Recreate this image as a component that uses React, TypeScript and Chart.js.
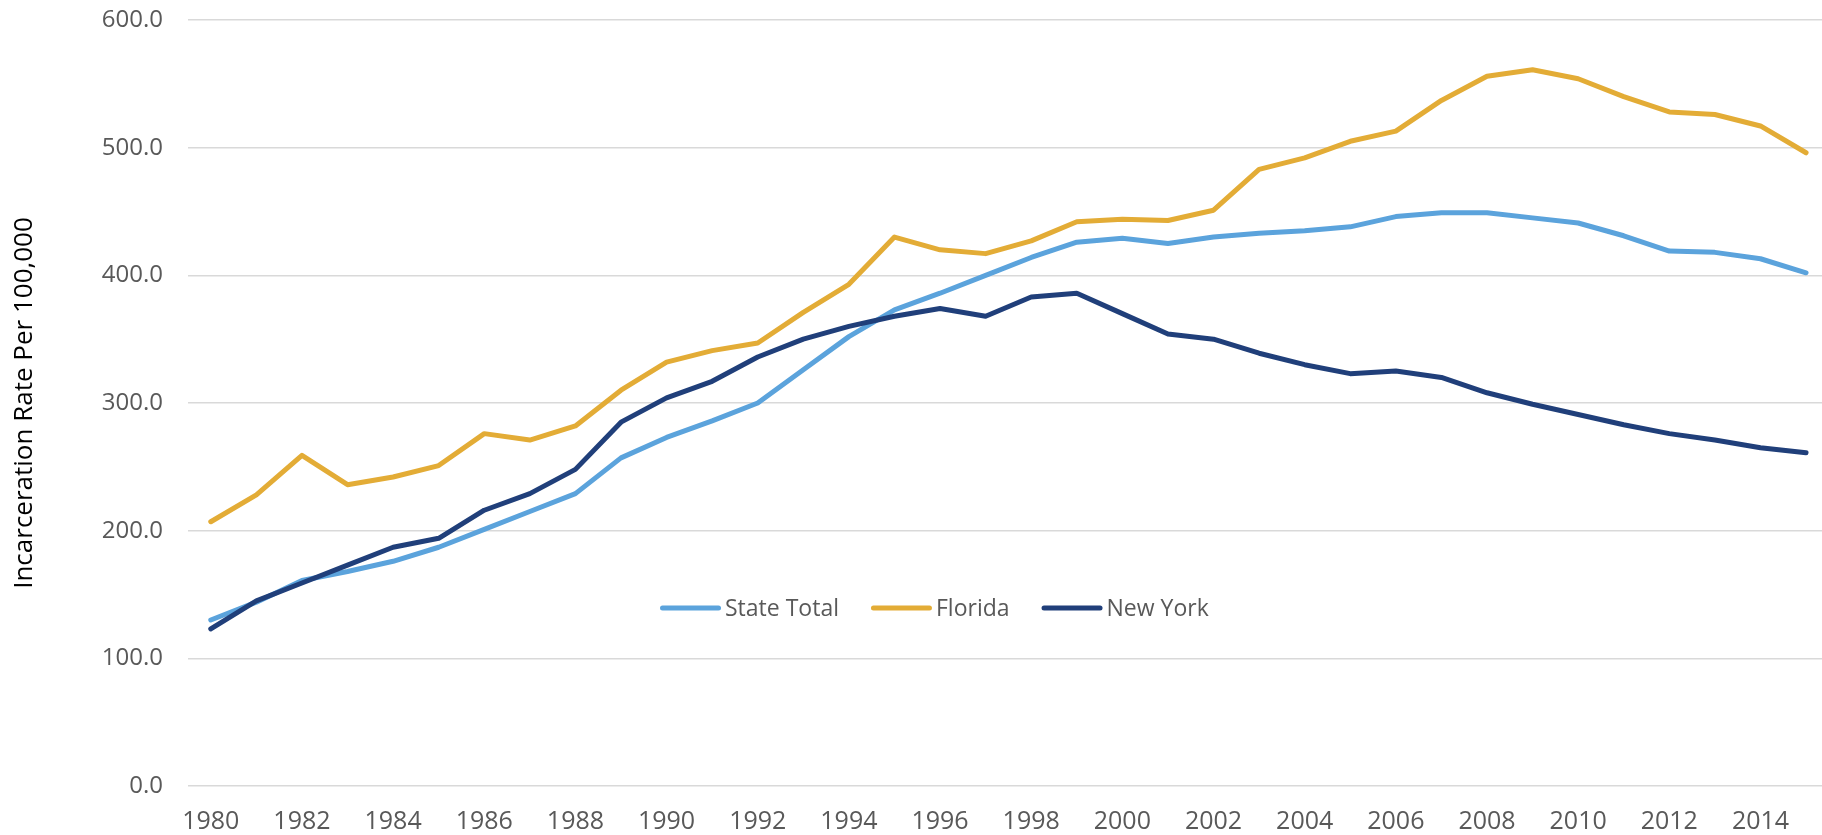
import React, { useEffect, useRef } from "react";
import { Chart, registerables } from "chart.js";

Chart.register(...registerables);

const years = [
  1980, 1981, 1982, 1983, 1984, 1985, 1986, 1987, 1988, 1989, 1990, 1991,
  1992, 1993, 1994, 1995, 1996, 1997, 1998, 1999, 2000, 2001, 2002, 2003,
  2004, 2005, 2006, 2007, 2008, 2009, 2010, 2011, 2012, 2013, 2014, 2015,
];

const stateTotal = [
  130, 144, 161, 168, 176, 187, 201, 215, 229, 257, 273, 286,
  300, 326, 352, 373, 386, 400, 414, 426, 429, 425, 430, 433,
  435, 438, 446, 449, 449, 445, 441, 431, 419, 418, 413, 402,
];

const florida = [
  207, 228, 259, 236, 242, 251, 276, 271, 282, 310, 332, 341,
  347, 371, 393, 430, 420, 417, 427, 442, 444, 443, 451, 483,
  492, 505, 513, 537, 556, 561, 554, 540, 528, 526, 517, 496,
];

const newYork = [
  123, 145, 159, 173, 187, 194, 216, 229, 248, 285, 304, 317,
  336, 350, 360, 368, 374, 368, 383, 386, 370, 354, 350, 339,
  330, 323, 325, 320, 308, 299, 291, 283, 276, 271, 265, 261,
];

const xTickLabels = [
  1980, 1982, 1984, 1986, 1988, 1990, 1992, 1994, 1996, 1998, 2000, 2002,
  2004, 2006, 2008, 2010, 2012, 2014,
];

const yTicks = [0, 100, 200, 300, 400, 500, 600];

const seriesNames = ["State Total", "Florida", "New York"];
const seriesColors = ["#5BA3DC", "#E3AC36", "#203F7A"];

const FONT = "'Open Sans', 'Noto Sans', sans-serif";

const legendPlugin = {
  id: "innerLegend",
  afterDraw(chart: any) {
    const ctx = chart.ctx;
    ctx.save();
    ctx.font = `23px ${FONT}`;
    ctx.textBaseline = "middle";
    ctx.textAlign = "left";
    let x = 660;
    const y = 608;
    chart.data.datasets.forEach((ds: any) => {
      ctx.strokeStyle = ds.borderColor;
      ctx.lineWidth = 5;
      ctx.lineCap = "round";
      ctx.beginPath();
      ctx.moveTo(x + 2.5, y);
      ctx.lineTo(x + 58.5, y);
      ctx.stroke();
      ctx.fillStyle = "#595959";
      ctx.fillText(ds.label, x + 65, y + 1);
      const w = ctx.measureText(ds.label).width;
      x += 65 + w + 32;
    });
    ctx.restore();
  },
};

export default function App() {
  const canvasRef = useRef<HTMLCanvasElement | null>(null);

  useEffect(() => {
    if (!canvasRef.current) return;
    const seriesData = [stateTotal, florida, newYork];
    const chart = new Chart(canvasRef.current, {
      type: "line",
      data: {
        datasets: seriesData.map((vals, i) => ({
          label: seriesNames[i],
          data: vals.map((v, j) => ({ x: years[j], y: v })),
          borderColor: seriesColors[i],
          backgroundColor: seriesColors[i],
          borderWidth: 5,
          borderCapStyle: "round" as const,
          borderJoinStyle: "round" as const,
          pointRadius: 0,
          tension: 0,
          order: 3 - i,
        })),
      },
      options: {
        animation: false,
        responsive: true,
        maintainAspectRatio: false,
        layout: { padding: { top: 20, right: 0, left: 0, bottom: 0 } },
        plugins: {
          legend: { display: false },
          tooltip: { enabled: false },
        },
        scales: {
          x: {
            type: "linear",
            min: 1979.5,
            max: 2015.35,
            afterBuildTicks: (scale: any) => {
              scale.ticks = xTickLabels.map((v) => ({ value: v }));
            },
            afterFit: (scale: any) => {
              scale.height = 49;
              scale.paddingLeft = 0;
              scale.paddingRight = 0;
            },
            grid: { display: false, drawTicks: false },
            border: { display: false },
            ticks: {
              autoSkip: false,
              maxRotation: 0,
              padding: 21,
              color: "#595959",
              font: { family: FONT, size: 25 },
              callback: (v: any) => String(v),
            },
          },
          y: {
            min: 0,
            max: 600,
            afterBuildTicks: (scale: any) => {
              scale.ticks = yTicks.map((v) => ({ value: v }));
            },
            afterFit: (scale: any) => {
              scale.width = 188;
              scale.paddingTop = 0;
              scale.paddingBottom = 0;
            },
            grid: {
              color: "#d9d9d9",
              lineWidth: 1.5,
              drawTicks: false,
            },
            border: { display: false },
            ticks: {
              padding: 25,
              color: "#595959",
              font: { family: FONT, size: 24 },
              callback: (v: any) => Number(v).toFixed(1),
            },
            title: {
              display: true,
              text: "Incarceration Rate Per 100,000",
              color: "#000000",
              font: { family: FONT, size: 26 },
              padding: { top: 9, bottom: 0 },
            },
          },
        },
      },
      plugins: [legendPlugin],
    });
    return () => chart.destroy();
  }, []);

  return (
    <div
      style={{
        position: "fixed",
        left: 0,
        top: 0,
        width: "1822px",
        height: "835px",
        background: "#ffffff",
      }}
    >
      <canvas ref={canvasRef} />
    </div>
  );
}
